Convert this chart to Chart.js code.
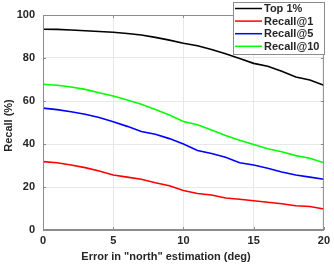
<!DOCTYPE html>
<html>
<head>
<meta charset="utf-8">
<script src="https://cdn.jsdelivr.net/npm/chart.js@4.4.1/dist/chart.umd.min.js"></script>
<style>
  html, body { margin: 0; padding: 0; background: #fff; }
  #wrap { width: 334px; height: 265px; }
</style>
</head>
<body>
<div id="wrap"><canvas id="recallChart" width="334" height="265"></canvas></div>
<script>
// Error in "north" estimation (deg)
const errorDeg = [0, 1, 2, 3, 4, 5, 6, 7, 8, 9, 10, 11, 12, 13, 14, 15, 16, 17, 18, 19, 20];

// Recall (%) per series
const top1Pct  = [93.4, 93.3, 93.0, 92.7, 92.3, 92.0, 91.4, 90.7, 89.6, 88.3, 86.9, 85.7, 84.0, 82.0, 79.8, 77.5, 76.2, 73.8, 71.2, 69.8, 67.3];
const recall1  = [31.8, 31.3, 30.2, 29.0, 27.4, 25.6, 24.6, 23.6, 22.0, 20.6, 18.4, 17.0, 16.3, 14.9, 14.3, 13.6, 12.9, 12.2, 11.3, 10.9, 9.8];
const recall5  = [56.7, 56.0, 55.0, 53.8, 52.3, 50.4, 48.2, 45.8, 44.5, 42.5, 40.0, 37.0, 35.6, 33.8, 31.3, 30.2, 28.7, 27.0, 25.6, 24.6, 23.6];
const recall10 = [67.8, 67.3, 66.5, 65.4, 63.8, 62.3, 60.5, 58.5, 56.0, 53.5, 50.5, 49.0, 46.5, 44.0, 41.7, 39.8, 37.8, 36.4, 34.6, 33.4, 31.3];

const seriesLabels = ['Top 1%', 'Recall@1', 'Recall@5', 'Recall@10'];
const seriesColors = ['#000000', '#ff0000', '#0000ff', '#00ff00'];

const xTitle = 'Error in "north" estimation (deg)';
const yTitle = 'Recall (%)';

const FONT = 'bold 11px "Liberation Sans", Arial, Helvetica, sans-serif';
const TEXT_COLOR = '#262626';
const BOX_COLOR = '#8c8c8c';

function toPoints(values) {
    return errorDeg.map((x, i) => ({ x: x, y: values[i] }));
}

/**
 * Kutu, iç tick'ler, eksen başlıkları ve lejant
 */
const matlabLook = {
    id: 'matlabLook',
    afterDraw(chart) {
        const ctx = chart.ctx;
        const a = chart.chartArea;
        const xs = chart.scales.x;
        const ys = chart.scales.y;
        ctx.save();

        // axis box
        ctx.strokeStyle = BOX_COLOR;
        ctx.lineWidth = 1;
        ctx.strokeRect(a.left + 0.5, a.top + 0.5, a.right - a.left - 1, a.bottom - a.top - 1);

        // inward tick marks
        ctx.beginPath();
        xs.ticks.forEach(t => {
            const px = Math.round(xs.getPixelForValue(t.value)) + 0.5;
            ctx.moveTo(px, a.bottom); ctx.lineTo(px, a.bottom - 3);
            ctx.moveTo(px, a.top); ctx.lineTo(px, a.top + 3);
        });
        ys.ticks.forEach(t => {
            const py = Math.round(ys.getPixelForValue(t.value)) + 0.5;
            ctx.moveTo(a.left, py); ctx.lineTo(a.left + 3, py);
            ctx.moveTo(a.right, py); ctx.lineTo(a.right - 3, py);
        });
        ctx.stroke();

        // axis titles
        ctx.fillStyle = TEXT_COLOR;
        ctx.font = FONT;
        ctx.textAlign = 'center';
        ctx.textBaseline = 'middle';
        ctx.fillText(xTitle, 166, 257);
        ctx.save();
        ctx.translate(9, (a.top + a.bottom) / 2 + 3);
        ctx.rotate(-Math.PI / 2);
        ctx.fillText(yTitle, 0, 0);
        ctx.restore();

        // legend
        const lx = 233, ly = 2, lw = 92, lh = 53;
        ctx.fillStyle = '#ffffff';
        ctx.fillRect(lx, ly, lw, lh);
        ctx.strokeStyle = BOX_COLOR;
        ctx.strokeRect(lx + 0.5, ly + 0.5, lw - 1, lh - 1);
        ctx.textAlign = 'left';
        chart.data.datasets.forEach((ds, i) => {
            const cy = ly + 6.5 + i * 12.6;
            ctx.strokeStyle = ds.borderColor;
            ctx.lineWidth = 1.5;
            ctx.beginPath();
            ctx.moveTo(lx + 2, cy);
            ctx.lineTo(lx + 29, cy);
            ctx.stroke();
            ctx.fillStyle = TEXT_COLOR;
            ctx.fillText(ds.label, lx + 31, cy + 0.5);
        });
        ctx.restore();
    }
};

const allSeries = [top1Pct, recall1, recall5, recall10];

new Chart(document.getElementById('recallChart'), {
    type: 'line',
    data: {
        datasets: allSeries.map((values, i) => ({
            label: seriesLabels[i],
            data: toPoints(values),
            borderColor: seriesColors[i],
            backgroundColor: seriesColors[i],
            borderWidth: 1.6,
            pointRadius: 0,
            tension: 0,
            fill: false
        }))
    },
    options: {
        responsive: false,
        animation: false,
        layout: { padding: { top: 15, right: 10, left: 0, bottom: 0 } },
        plugins: {
            legend: { display: false },
            tooltip: { enabled: false }
        },
        scales: {
            x: {
                type: 'linear',
                min: 0,
                max: 20,
                afterFit(scale) { scale.height = 35; },
                ticks: {
                    stepSize: 5,
                    padding: 4,
                    color: TEXT_COLOR,
                    font: { family: '"Liberation Sans", Arial, sans-serif', size: 11, weight: 'bold' },
                    maxRotation: 0
                },
                grid: { color: '#e8e8e8', drawTicks: false },
                border: { color: BOX_COLOR }
            },
            y: {
                min: 0,
                max: 100,
                afterFit(scale) { scale.width = 43; },
                ticks: {
                    stepSize: 20,
                    padding: 8,
                    color: TEXT_COLOR,
                    font: { family: '"Liberation Sans", Arial, sans-serif', size: 11, weight: 'bold' }
                },
                grid: { color: '#e8e8e8', drawTicks: false },
                border: { color: BOX_COLOR }
            }
        }
    },
    plugins: [matlabLook]
});
</script>
</body>
</html>
